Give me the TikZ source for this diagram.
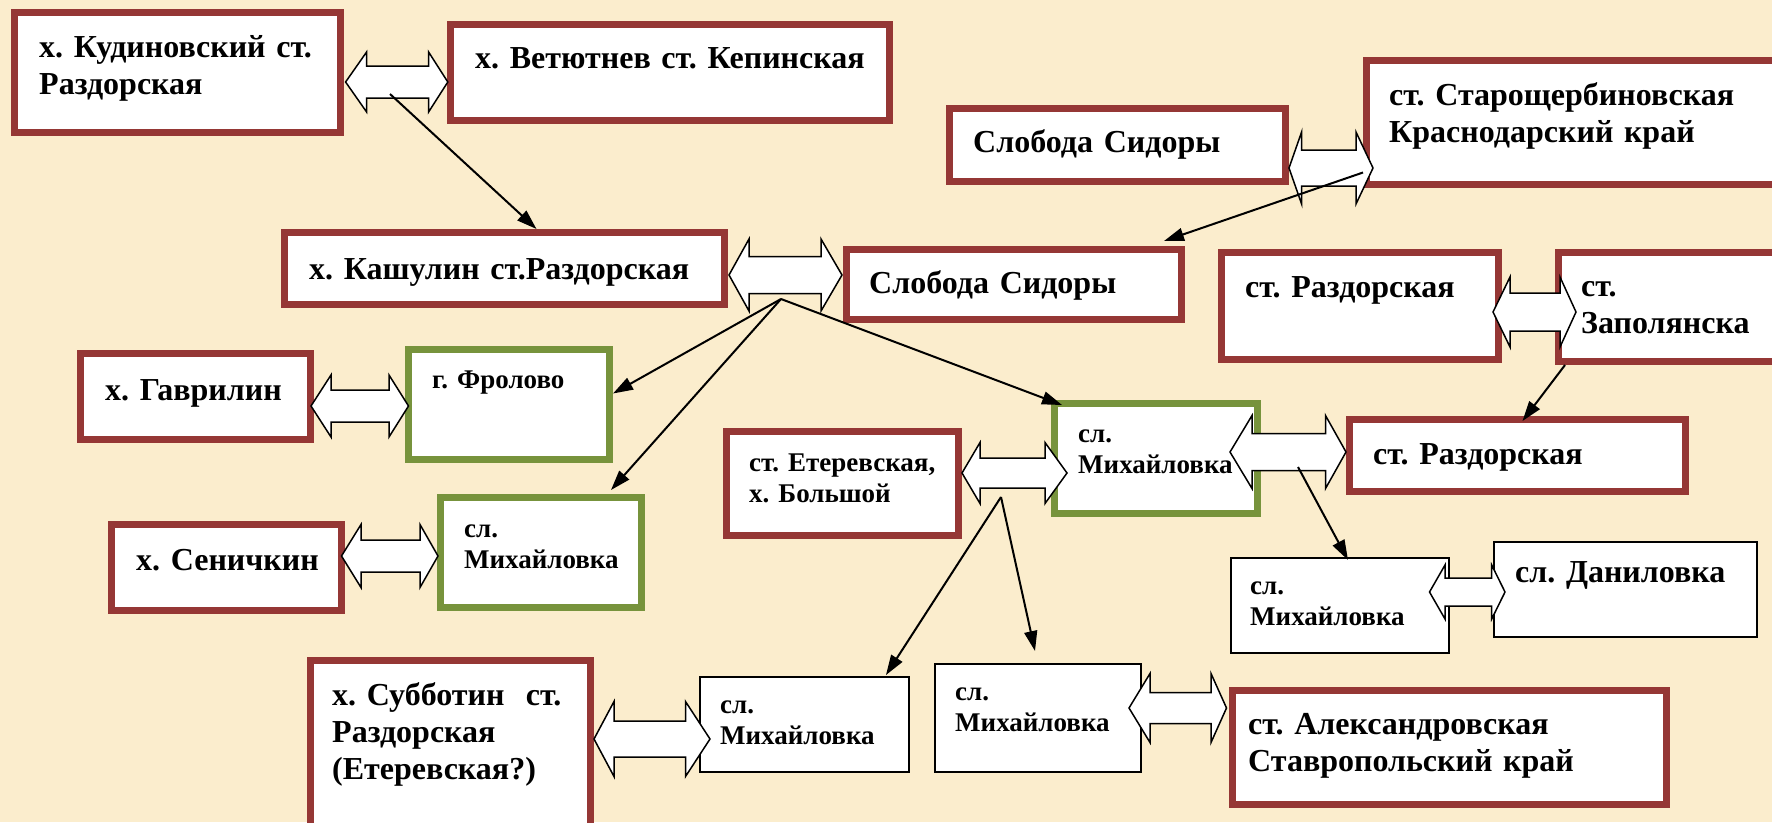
\documentclass[tikz,border=0pt]{standalone}
\usepackage{fontspec}
\setmainfont{Liberation Serif}
\usetikzlibrary{arrows.meta}
\frenchspacing

\definecolor{parchment}{RGB}{251,237,205}
\definecolor{brickred}{RGB}{149,55,53}
\definecolor{olivegreen}{RGB}{119,147,60}

\newcommand{\bigtext}{\fontsize{32}{37}\selectfont\bfseries}
\newcommand{\smalltext}{\fontsize{27}{31}\selectfont\bfseries}

% white double block arrow: left tip, left base, right base, right tip, centre y, head half, shaft half
\newcommand{\twowayarrow}[7]{%
  \draw[blockarrow] (#1,#5) -- (#2,#5-#6) -- (#2,#5-#7) -- (#3,#5-#7) -- (#3,#5-#6)
    -- (#4,#5) -- (#3,#5+#6) -- (#3,#5+#7) -- (#2,#5+#7) -- (#2,#5+#6) -- cycle;}

\tikzset{
  redbox/.style={rectangle, draw=brickred, line width=7pt, fill=white, anchor=north west, inner sep=0pt},
  greenbox/.style={rectangle, draw=olivegreen, line width=7pt, fill=white, anchor=north west, inner sep=0pt},
  thinbox/.style={rectangle, draw=black, line width=2pt, fill=white, anchor=north west, inner sep=0pt},
  boxtext/.style={anchor=base west, inner sep=0pt, text width=450pt, align=left, font=\bigtext},
  smallboxtext/.style={boxtext, font=\smalltext},
  blockarrow/.style={draw=black, line width=1.5pt, fill=white, line join=miter},
  link/.style={line width=2pt, -{Triangle[length=20pt,width=13pt]}},
}

\begin{document}
\begin{tikzpicture}[x=1pt, y=-1pt]
      \useasboundingbox (0,0) rectangle (1772,822);
      \fill[parchment] (0,0) rectangle (1772,822);
      \clip (0,0) rectangle (1772,822);

      % boxes
      \node[redbox, minimum width=326, minimum height=120] (kud) at (11,9) {};
      \node[redbox, minimum width=439, minimum height=96] (vet) at (447,21) {};
      \node[redbox, minimum width=336, minimum height=73] (sid1) at (946,105) {};
      \node[redbox, minimum width=420, minimum height=124] (star) at (1363,57) {};
      \node[redbox, minimum width=440, minimum height=72] (kash) at (281,229) {};
      \node[redbox, minimum width=335, minimum height=70] (sid2) at (843,246) {};
      \node[redbox, minimum width=277, minimum height=107] (razd1) at (1218,249) {};
      \node[redbox, minimum width=228, minimum height=109] (zap) at (1555,249) {};
      \node[redbox, minimum width=230, minimum height=86] (gav) at (77,350) {};
      \node[greenbox, minimum width=201, minimum height=110] (frol) at (405,346) {};
      \node[redbox, minimum width=232, minimum height=104] (eter) at (723,428) {};
      \node[greenbox, minimum width=203, minimum height=110] (mikC) at (1051,400) {};
      \node[redbox, minimum width=336, minimum height=72] (razd2) at (1346,416) {};
      \node[redbox, minimum width=230, minimum height=86] (sen) at (108,521) {};
      \node[greenbox, minimum width=201, minimum height=110] (mikL) at (437,494) {};
      \node[thinbox, minimum width=218, minimum height=95] (mikR) at (1230,557) {};
      \node[thinbox, minimum width=263, minimum height=95] (dan) at (1493,541) {};
      \node[redbox, minimum width=280, minimum height=176] (sub) at (307,657) {};
      \node[thinbox, minimum width=209, minimum height=95] (mikB1) at (699,676) {};
      \node[thinbox, minimum width=206, minimum height=108] (mikB2) at (934,663) {};
      \node[redbox, minimum width=434, minimum height=114] (alex) at (1229,687) {};

      % texts
      \node[boxtext] (kudT) at (39,57) {х. Кудиновский ст.\\Раздорская};
      \node[boxtext] (vetT) at (475,68) {х. Ветютнев ст. Кепинская};
      \node[boxtext] (sid1T) at (973,152) {Слобода Сидоры};
      \node[boxtext] (starT) at (1389,105) {ст. Старощербиновская\\Краснодарский край};
      \node[boxtext] (kashT) at (309,279) {х. Кашулин ст.Раздорская};
      \node[boxtext] (sid2T) at (869,293) {Слобода Сидоры};
      \node[boxtext] (razd1T) at (1245,297) {ст. Раздорская};
      \node[boxtext] (zapT) at (1581,296) {ст.\\Заполянска};
      \node[boxtext] (gavT) at (105,400) {х. Гаврилин};
      \node[smallboxtext] (frolT) at (432,388) {г. Фролово};
      \node[smallboxtext] (eterT) at (749,471) {ст. Етеревская,\\х. Большой};
      \node[smallboxtext] (mikCT) at (1078,442) {сл.\\Михайловка};
      \node[boxtext] (razd2T) at (1373,464) {ст. Раздорская};
      \node[boxtext] (senT) at (136,570) {х. Сеничкин};
      \node[smallboxtext] (mikLT) at (464,537) {сл.\\Михайловка};
      \node[smallboxtext] (mikRT) at (1250,594) {сл.\\Михайловка};
      \node[boxtext] (danT) at (1515,582) {сл. Даниловка};
      \node[boxtext] (subT) at (332,705) {х. Субботин\ \ ст.\\Раздорская\\(Етеревская?)};
      \node[smallboxtext] (mikB1T) at (720,713) {сл.\\Михайловка};
      \node[smallboxtext] (mikB2T) at (955,700) {сл.\\Михайловка};
      \node[boxtext] (alexT) at (1248,734) {ст. Александровская\\Ставропольский край};

      % two-way block arrows
      \twowayarrow{345.6}{366.6}{428.6}{447.8}{82}{30}{16}
      \twowayarrow{1289}{1301.6}{1356}{1373}{168}{36}{18}
      \twowayarrow{729}{749}{821}{842}{275}{36}{18.5}
      \twowayarrow{1493}{1510}{1560}{1576}{312}{35}{19}
      \twowayarrow{311}{331}{389}{408.5}{406}{31}{16}
      \twowayarrow{962}{980}{1045}{1067}{473}{30.5}{15}
      \twowayarrow{1230}{1252}{1325.5}{1346}{452}{36.5}{18.5}
      \twowayarrow{341.5}{361}{420}{438}{556}{31.5}{16}
      \twowayarrow{1429.5}{1445}{1491.7}{1505}{592}{27}{14}
      \twowayarrow{594}{614}{685.5}{710}{739}{37.5}{18}
      \twowayarrow{1129}{1150}{1211}{1226.5}{708}{34.5}{15.5}

      % points where the thin arrows leave the block arrows
      \coordinate (kudfoot) at (390,94);
      \coordinate (kashfoot) at (781,299);
      \coordinate (eterfoot) at (1001,497);
      \coordinate (mikCfoot) at (1298,467);

      % thin arrows
      \draw[link] (kudfoot) -- ([xshift=32pt]kash.north);
      \draw[link] ([yshift=-50pt]star.west) -- ([xshift=-21pt,yshift=5pt]sid2.north east);
      \draw[link] (kashfoot) -- ([yshift=11pt]frol.east);
      \draw[link] (kashfoot) -- ([xshift=-34pt,yshift=4pt]mikL.north east);
      \draw[link] (kashfoot) -- ([xshift=11pt,yshift=-5pt]mikC.north west);
      \draw[link] ([xshift=10pt]zap.south west) -- ([xshift=5pt,yshift=-5pt]razd2.north);
      \draw[link] (mikCfoot) -- ([xshift=8pt,yshift=-3pt]mikR.north);
      \draw[link] (eterfoot) -- ([xshift=-24pt,yshift=1pt]mikB1.north east);
      \draw[link] (eterfoot) -- ([xshift=-3pt,yshift=12pt]mikB2.north);
\end{tikzpicture}
\end{document}
